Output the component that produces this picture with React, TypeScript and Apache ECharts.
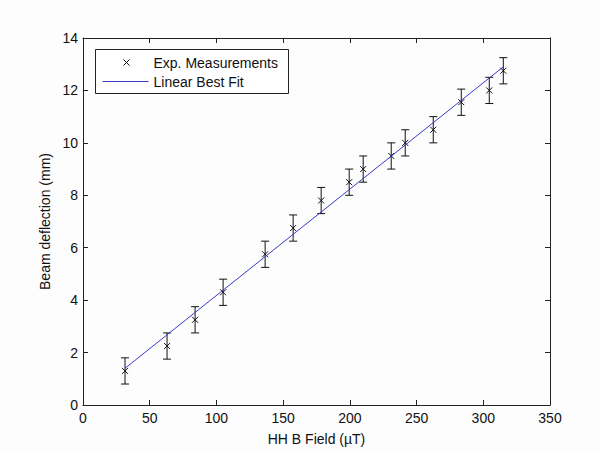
import React, { useEffect, useRef } from "react";
import * as echarts from "echarts";

// HH B field (µT)
const bField = [31.5, 63, 84, 105, 136.5, 157.5, 178.5, 199.5, 210, 231, 241.5, 262.5, 283.5, 304.5, 315];
// Beam deflection (mm)
const deflection = [1.3, 2.25, 3.25, 4.3, 5.75, 6.75, 7.8, 8.5, 9.0, 9.5, 10.0, 10.5, 11.55, 12.0, 12.75];
// Error (± mm)
const errors = [0.5, 0.5, 0.5, 0.5, 0.5, 0.5, 0.5, 0.5, 0.5, 0.5, 0.5, 0.5, 0.5, 0.5, 0.5];
// Linear best fit endpoints [x, y]
const fitLine = [
  [31.5, 1.4],
  [315, 12.9],
];
const seriesNames = ["Exp. Measurements", "Linear Best Fit"];

const FONT = "Liberation Sans";
const FIT_COLOR = "#3b3bc8";
const FS = 14;

export default function App() {
  const ref = useRef<HTMLDivElement>(null);
  useEffect(() => {
    if (!ref.current) return;
    const chart = echarts.init(ref.current, undefined, { renderer: "svg" });
    const measData = bField.map((x, i) => [x, deflection[i], errors[i]]);
    const axisCommon = {
      axisLine: { show: true, onZero: false, lineStyle: { color: "#222", width: 1 } },
      axisTick: { show: true, inside: true, length: 5, lineStyle: { color: "#222" } },
      splitLine: { show: false },
    };
    chart.setOption({
      animation: false,
      backgroundColor: "#fdfdfd",
      textStyle: { fontFamily: FONT },
      grid: { left: 83, right: 50, top: 38, bottom: 46, containLabel: false },
      xAxis: [
        {
          type: "value",
          min: 0,
          max: 350,
          interval: 50,
          position: "bottom",
          name: "HH B Field (\u00b5T)",
          nameLocation: "middle",
          nameGap: 27,
          nameTextStyle: { fontFamily: FONT, fontSize: FS, color: "#111" },
          axisLabel: { fontFamily: FONT, fontSize: FS, color: "#111", margin: 6 },
          ...axisCommon,
        },
        {
          type: "value",
          min: 0,
          max: 350,
          interval: 50,
          position: "top",
          axisLabel: { show: false },
          ...axisCommon,
        },
      ],
      yAxis: [
        {
          type: "value",
          min: 0,
          max: 14,
          interval: 2,
          position: "left",
          name: "Beam deflection (mm)",
          nameLocation: "middle",
          nameGap: 30,
          nameTextStyle: { fontFamily: FONT, fontSize: FS, color: "#111" },
          axisLabel: { fontFamily: FONT, fontSize: FS, color: "#111", margin: 5 },
          ...axisCommon,
        },
        {
          type: "value",
          min: 0,
          max: 14,
          interval: 2,
          position: "right",
          axisLabel: { show: false },
          ...axisCommon,
        },
      ],
      series: [
        {
          name: seriesNames[0],
          type: "custom",
          xAxisIndex: 0,
          yAxisIndex: 0,
          data: measData,
          encode: { x: 0, y: 1 },
          renderItem: (params: any, api: any) => {
            const x = api.value(0);
            const y = api.value(1);
            const e = api.value(2);
            const c = api.coord([x, y]);
            const t = api.coord([x, y + e]);
            const b = api.coord([x, y - e]);
            const cw = 4;
            const m = 3;
            const style = { stroke: "#111", lineWidth: 1, fill: "none" };
            return {
              type: "group",
              children: [
                { type: "line", shape: { x1: c[0], y1: t[1], x2: c[0], y2: b[1] }, style },
                { type: "line", shape: { x1: c[0] - cw, y1: t[1], x2: c[0] + cw, y2: t[1] }, style },
                { type: "line", shape: { x1: c[0] - cw, y1: b[1], x2: c[0] + cw, y2: b[1] }, style },
                { type: "line", shape: { x1: c[0] - m, y1: c[1] - m, x2: c[0] + m, y2: c[1] + m }, style },
                { type: "line", shape: { x1: c[0] - m, y1: c[1] + m, x2: c[0] + m, y2: c[1] - m }, style },
              ],
            };
          },
        },
        {
          name: seriesNames[1],
          type: "line",
          xAxisIndex: 0,
          yAxisIndex: 0,
          data: fitLine,
          symbol: "none",
          lineStyle: { color: FIT_COLOR, width: 1 },
          z: 3,
        },
      ],
      graphic: [
        {
          type: "group",
          left: 95,
          top: 49,
          children: [
            {
              type: "rect",
              shape: { x: 0, y: 0, width: 193, height: 44 },
              style: { fill: "#ffffff", stroke: "#222", lineWidth: 1 },
            },
            { type: "line", shape: { x1: 28, y1: 10, x2: 34, y2: 16 }, style: { stroke: "#111", lineWidth: 1 } },
            { type: "line", shape: { x1: 28, y1: 16, x2: 34, y2: 10 }, style: { stroke: "#111", lineWidth: 1 } },
            { type: "line", shape: { x1: 7, y1: 32, x2: 53, y2: 32 }, style: { stroke: FIT_COLOR, lineWidth: 1 } },
            {
              type: "text",
              x: 58,
              y: 13,
              style: { text: seriesNames[0], font: `${FS}px "${FONT}"`, fill: "#111", verticalAlign: "middle" },
            },
            {
              type: "text",
              x: 58,
              y: 32,
              style: { text: seriesNames[1], font: `${FS}px "${FONT}"`, fill: "#111", verticalAlign: "middle" },
            },
          ],
        },
      ],
    });
    return () => chart.dispose();
  }, []);
  return (
    <div
      ref={ref}
      style={{ position: "fixed", left: 0, top: 0, width: 600, height: 451, background: "#fdfdfd" }}
    />
  );
}
